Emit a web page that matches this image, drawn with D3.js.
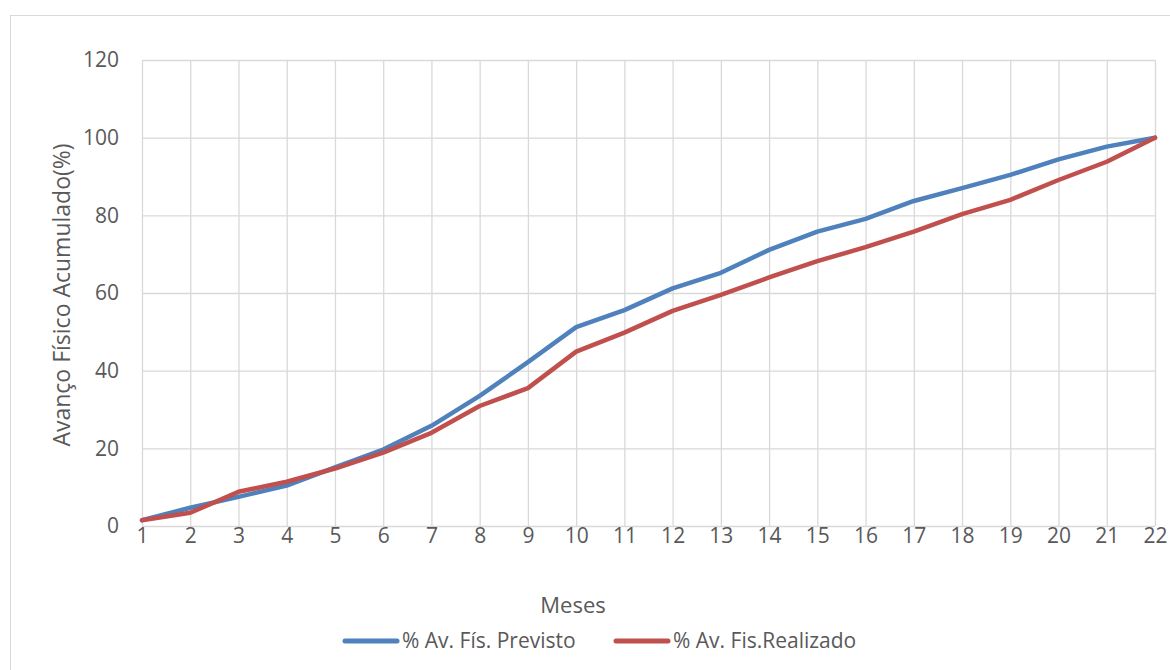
<!DOCTYPE html>
<html>
<head>
<meta charset="utf-8">
<script src="https://cdn.jsdelivr.net/npm/d3@7"></script>
<style>
  body { margin: 0; background: #fff; }
  svg { display: block; }
  text { font-family: "Open Sans", "Liberation Sans", sans-serif; fill: #595959; }
</style>
</head>
<body>
<svg id="chart" width="1170" height="670"></svg>
<script>
// Months of the schedule
const months = d3.range(1, 23);
// Planned cumulative physical progress (%)
const previsto = [1.5, 4.7, 7.5, 10.4, 15.1, 19.7, 25.8, 33.5, 42.2, 51.2, 55.6, 61.2, 65.2, 71.1, 75.8, 79.1, 83.7, 87.0, 90.4, 94.4, 97.7, 100];
// Actual cumulative physical progress (%)
const realizado = [1.5, 3.4, 8.8, 11.4, 14.8, 18.9, 24.0, 30.9, 35.5, 44.9, 49.8, 55.4, 59.5, 64.0, 68.2, 71.8, 75.8, 80.3, 84.0, 89.1, 93.8, 100];
const yTicks = [0, 20, 40, 60, 80, 100, 120];

const series = [
  { name: "% Av. Fís. Previsto", values: previsto, color: "#4F81BD" },
  { name: "% Av. Fis.Realizado", values: realizado, color: "#C0504D" }
];

const svg = d3.select("#chart");

// Outer chart frame
svg.append("rect")
  .attr("x", 10.5).attr("y", 15.5)
  .attr("width", 1170).attr("height", 670)
  .attr("fill", "none").attr("stroke", "#D9D9D9").attr("stroke-width", 1);

const plot = { left: 142, right: 1155, top: 60, bottom: 526 };

const x = d3.scaleLinear().domain([1, 22]).range([plot.left, plot.right]);
const y = d3.scaleLinear().domain([0, 120]).range([plot.bottom, plot.top]);

// Horizontal grid lines
svg.append("g")
  .attr("transform", `translate(${plot.left},0)`)
  .call(d3.axisLeft(y).tickValues(yTicks).tickSize(-(plot.right - plot.left)).tickFormat(""))
  .call(g => g.select(".domain").remove())
  .call(g => g.selectAll("line").attr("stroke", "#D9D9D9").attr("stroke-width", 1.3));

// Vertical grid lines
svg.append("g")
  .attr("transform", `translate(0,${plot.bottom})`)
  .call(d3.axisBottom(x).tickValues(months).tickSize(-(plot.bottom - plot.top)).tickFormat(""))
  .call(g => g.select(".domain").remove())
  .call(g => g.selectAll("line").attr("stroke", "#D9D9D9").attr("stroke-width", 1.3));

// Y tick labels
svg.append("g")
  .attr("transform", `translate(${plot.left},0)`)
  .call(d3.axisLeft(y).tickValues(yTicks).tickSize(0).tickPadding(23))
  .call(g => g.select(".domain").remove())
  .call(g => g.selectAll("text").style("font-size", "21px").attr("fill", "#595959"));

// X tick labels
svg.append("g")
  .attr("transform", `translate(0,${plot.bottom})`)
  .call(d3.axisBottom(x).tickValues(months).tickSize(0).tickPadding(2).tickFormat(d3.format("d")))
  .call(g => g.select(".domain").remove())
  .call(g => g.selectAll("text").style("font-size", "21px").attr("fill", "#595959"));

// Series lines
const line = d3.line()
  .x((d, i) => x(months[i]))
  .y(d => y(d));

series.forEach(s => {
  svg.append("path")
    .datum(s.values)
    .attr("d", line)
    .attr("fill", "none")
    .attr("stroke", s.color)
    .attr("stroke-width", 4.5)
    .attr("stroke-linejoin", "round")
    .attr("stroke-linecap", "round");
});

// Axis titles
svg.append("text")
  .attr("x", 573).attr("y", 613)
  .attr("text-anchor", "middle")
  .style("font-size", "22px")
  .text("Meses");

svg.append("text")
  .attr("transform", `translate(70,295) rotate(-90)`)
  .attr("text-anchor", "middle")
  .style("font-size", "23px")
  .text("Avanço Físico Acumulado(%)");

// Legend
const legendX = [345, 616];
series.forEach((s, i) => {
  const g = svg.append("g").attr("transform", `translate(${legendX[i]},641)`);
  g.append("line")
    .attr("x1", 0).attr("x2", 52).attr("y1", 0).attr("y2", 0)
    .attr("stroke", s.color).attr("stroke-width", 5).attr("stroke-linecap", "round");
  g.append("text")
    .attr("x", 57).attr("y", 7)
    .style("font-size", "21px")
    .text(s.name);
});
</script>
</body>
</html>
